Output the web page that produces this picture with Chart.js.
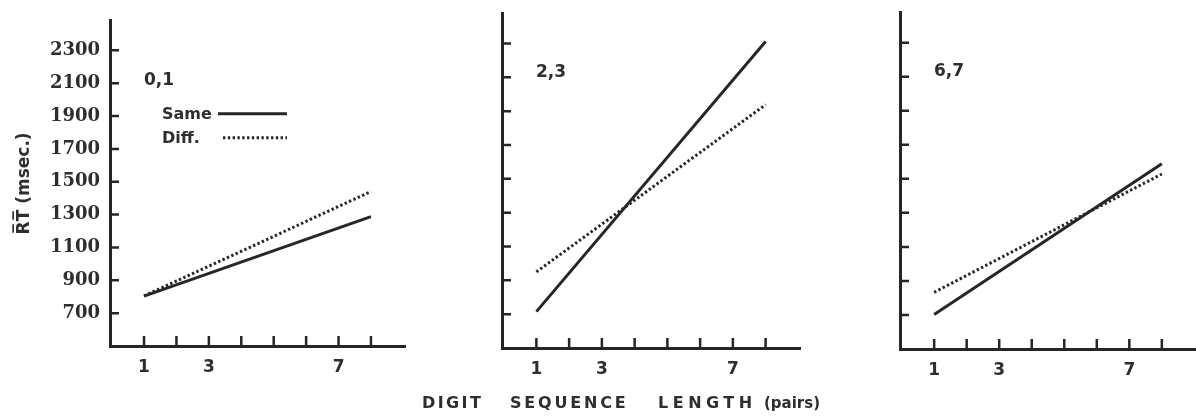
<!DOCTYPE html>
<html>
<head>
<meta charset="utf-8">
<script src="https://cdn.jsdelivr.net/npm/chart.js@4/dist/chart.umd.min.js"></script>
<style>
  html, body { margin: 0; padding: 0; background: #fff; }
  #wrap { position: relative; width: 1196px; height: 417px; overflow: hidden; }
  canvas { position: absolute; top: 0; }
  .xt { position: absolute; top: 394px; line-height: 18px; color: #2e2e2e; font-weight: bold; white-space: nowrap;
        font-family: "DejaVu Sans", sans-serif; font-size: 16px; }
</style>
</head>
<body>
<div id="wrap">
  <canvas id="p0" width="420" height="417" style="left:0"></canvas>
  <canvas id="p1" width="420" height="417" style="left:420px"></canvas>
  <canvas id="p2" width="356" height="417" style="left:840px"></canvas>
  <span class="xt" style="left:422px; letter-spacing:2.4px">DIGIT</span>
  <span class="xt" style="left:510px; letter-spacing:2.8px">SEQUENCE</span>
  <span class="xt" style="left:658px; letter-spacing:4.5px">LENGTH</span>
  <span class="xt" style="left:764px; font-size:15px">(pairs)</span>
</div>
<script>
// digit pair conditions, one panel each
const panelNames = ['0,1', '2,3', '6,7'];
const seqLength = [1, 8];

// mean RT (msec.) at the ends of each fitted line
const same01 = [804, 1288];
const diff01 = [805, 1440];
const same23 = [715, 2312];
const diff23 = [950, 1938];
const same67 = [703, 1588];
const diff67 = [833, 1528];

const yTicks = [700, 900, 1100, 1300, 1500, 1700, 1900, 2100, 2300];
const xTicks = [1, 2, 3, 4, 5, 6, 7, 8];
const xTickLabels = ['1', '', '3', '', '', '', '7', ''];

const ink = '#262626';
const textInk = '#2e2e2e';

// per-panel frame: where the plot area sits inside each canvas
const frames = [
  { top: 15, right: 15, yWidth: 110, xHeight: 71, yLabels: true },
  { top: 13, right: 40, yWidth: 82, xHeight: 69, yLabels: false },
  { top: 12, right: 0, yWidth: 60, xHeight: 68, yLabels: false }
];

const pts = ys => seqLength.map((x, i) => ({ x: x, y: ys[i] }));

// ticks in the original point into the plot, so they are drawn here
const inwardTicks = {
  id: 'inwardTicks',
  afterDraw(chart) {
    const { ctx, chartArea: a, scales: { x, y } } = chart;
    ctx.save();
    ctx.strokeStyle = ink;
    ctx.lineWidth = 2.5;
    ctx.beginPath();
    y.ticks.forEach(t => {
      const py = y.getPixelForValue(t.value);
      ctx.moveTo(a.left, py);
      ctx.lineTo(a.left + 9, py);
    });
    x.ticks.forEach(t => {
      const px = x.getPixelForValue(t.value);
      ctx.moveTo(px, a.bottom);
      ctx.lineTo(px, a.bottom - 10);
    });
    ctx.stroke();
    ctx.restore();
  }
};

// panel name and (on the first panel) the key, written inside the plot
const panelText = {
  id: 'panelText',
  afterDraw(chart, args, opts) {
    const { ctx, chartArea: a } = chart;
    ctx.save();
    ctx.fillStyle = textInk;
    ctx.textBaseline = 'alphabetic';
    ctx.font = 'bold 17px "DejaVu Sans"';
    ctx.fillText(opts.name, a.left + 34, a.top + 64);
    if (opts.key) {
      ctx.font = 'bold 16px "DejaVu Sans"';
      chart.data.datasets.forEach((ds, i) => {
        const by = a.top + 98 + i * 24;
        ctx.fillText(ds.label, a.left + 52, by);
        ctx.beginPath();
        ctx.strokeStyle = ds.borderColor;
        ctx.lineWidth = ds.borderWidth;
        ctx.setLineDash(ds.borderDash || []);
        ctx.moveTo(a.left + (i ? 113 : 108), by - 5);
        ctx.lineTo(a.left + 177, by - 5);
        ctx.stroke();
      });
    }
    ctx.restore();
  }
};

function makePanel(id, idx, same, diff) {
  const f = frames[idx];
  return new Chart(document.getElementById(id), {
    type: 'line',
    data: {
      datasets: [
        { label: 'Same', data: pts(same), borderColor: ink, borderWidth: 3, pointRadius: 0, tension: 0 },
        { label: 'Diff.', data: pts(diff), borderColor: ink, borderWidth: 3, borderDash: [2.4, 2.4], pointRadius: 0, tension: 0 }
      ]
    },
    options: {
      responsive: false,
      animation: false,
      devicePixelRatio: 1,
      layout: { padding: { top: f.top, right: f.right, bottom: 0, left: 0 } },
      plugins: {
        legend: { display: false },
        tooltip: { enabled: false },
        panelText: { name: panelNames[idx], key: idx === 0 }
      },
      scales: {
        x: {
          type: 'linear',
          min: -0.05,
          max: 9.05,
          afterBuildTicks: s => { s.ticks = xTicks.map(v => ({ value: v })); },
          afterFit: s => { s.height = f.xHeight; },
          grid: { display: false, drawTicks: false },
          border: { display: true, color: ink, width: 3 },
          ticks: {
            autoSkip: false,
            maxRotation: 0,
            padding: 11,
            color: textInk,
            font: { family: 'DejaVu Sans', size: 17, weight: 'bold' },
            callback: v => xTickLabels[xTicks.indexOf(v)]
          }
        },
        y: {
          min: 500,
          max: 2480,
          afterBuildTicks: s => { s.ticks = yTicks.map(v => ({ value: v })); },
          afterFit: s => { s.width = f.yWidth; },
          grid: { display: false, drawTicks: false },
          border: { display: true, color: ink, width: 3 },
          ticks: {
            display: f.yLabels,
            padding: 10,
            color: textInk,
            font: { family: 'DejaVu Serif', size: 18, weight: 'bold' },
            callback: v => String(v)
          },
          title: {
            display: f.yLabels,
            text: 'R\u0305T\u0305 (msec.)',
            color: textInk,
            padding: { top: 14, bottom: 0 },
            font: { family: 'DejaVu Sans', size: 17, weight: 'bold' }
          }
        }
      }
    },
    plugins: [inwardTicks, panelText]
  });
}

makePanel('p0', 0, same01, diff01);
makePanel('p1', 1, same23, diff23);
makePanel('p2', 2, same67, diff67);
</script>
</body>
</html>
